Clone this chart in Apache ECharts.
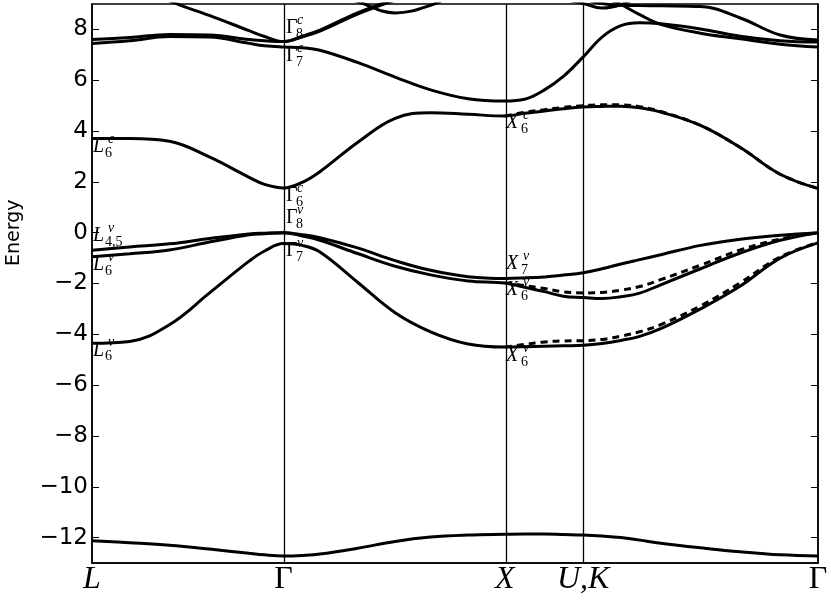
<!DOCTYPE html>
<html>
<head>
<meta charset="utf-8">
<script src="https://cdn.jsdelivr.net/npm/echarts@6/dist/echarts.min.js"></script>
<style>
html, body { margin: 0; padding: 0; background: #fff; }
#bands { width: 831px; height: 603px; }
</style>
</head>
<body>
<div id="bands"></div>
<script>
// high symmetry points along the path
var kPoints = [0, 0.866, 1.866, 2.22, 3.281];
var kNames = ['L', 'Γ', 'X', 'U,K', 'Γ'];
var yTicks = [-12, -10, -8, -6, -4, -2, 0, 2, 4, 6, 8];

// k sampling used for every band
var kGrid = [0, 0.17, 0.35, 0.53, 0.71, 0.78, 0.866, 0.95, 1.03, 1.2, 1.37, 1.53, 1.7, 1.866,
             1.955, 2.045, 2.13, 2.22, 2.305, 2.39, 2.475, 2.57, 2.75, 2.93, 3.11, 3.281];

// band energies (eV) read at kGrid
var bandCore = [-12.12, -12.2, -12.3, -12.45, -12.62, -12.68, -12.72, -12.7, -12.65, -12.42, -12.15, -11.98, -11.9, -11.87,
                -11.86, -11.86, -11.88, -11.9, -11.94, -12.0, -12.1, -12.22, -12.4, -12.56, -12.68, -12.72];
var bandV1 = [-4.35, -4.28, -3.62, -2.38, -1.12, -0.72, -0.43, -0.5, -0.76, -1.95, -3.15, -3.9, -4.38, -4.5,
              -4.49, -4.47, -4.45, -4.43, -4.36, -4.24, -4.08, -3.78, -3.0, -2.1, -1.0, -0.4];
var bandV2 = [-0.69, -0.56, -0.44, -0.23, -0.05, -0.02, 0, -0.08, -0.2, -0.6, -1.1, -1.48, -1.73, -1.8,
              -1.78, -1.74, -1.67, -1.58, -1.42, -1.23, -1.06, -0.87, -0.5, -0.26, -0.1, 0];
var bandV3 = [-0.95, -0.83, -0.68, -0.37, -0.08, -0.04, 0, -0.13, -0.3, -0.82, -1.32, -1.66, -1.9, -1.98,
              -2.15, -2.32, -2.5, -2.55, -2.59, -2.52, -2.38, -2.05, -1.42, -0.8, -0.3, 0];
var bandC1 = [3.71, 3.71, 3.6, 2.98, 2.18, 1.9, 1.76, 1.98, 2.4, 3.55, 4.5, 4.72, 4.66, 4.59,
              4.7, 4.79, 4.88, 4.95, 4.97, 4.98, 4.92, 4.75, 4.22, 3.35, 2.3, 1.74];
var bandC2 = [7.45, 7.55, 7.72, 7.7, 7.45, 7.36, 7.31, 7.28, 7.18, 6.7, 6.12, 5.62, 5.27, 5.18,
              5.25, 5.62, 6.15, 6.92, 7.7, 8.15, 8.26, 8.22, 8.02, 7.73, 7.55, 7.5];
var bandC3 = [7.6, 7.68, 7.8, 7.78, 7.6, 7.55, 7.52, 7.7, 7.93, 8.6, 9.15, 9.6, 9.9, 10.0,
              9.8, 9.7, 9.45, 9.2, 9.02, 8.95, 8.94, 8.93, 8.9, 8.45, 7.78, 7.58];
var bandC4 = [10.5, 9.9, 9.12, 8.55, 7.95, 7.72, 7.52, 7.73, 7.97, 8.65, 9.2, 9.7, 10.0, 10.2,
              10.3, 10.2, 9.9, 9.6, 9.3, 8.98, 8.58, 8.2, 7.85, 7.63, 7.42, 7.31];
var bandC5 = [11, 11, 10.8, 10.5, 10.2, 10.1, 10.0, 9.8, 9.6, 9.1, 8.65, 8.95, 9.6, 9.8,
              9.6, 9.4, 9.2, 9.02, 8.84, 8.97, 9.3, 9.6, 10, 10.2, 10.3, 10.3];

// second calculation (dashed), only differs past X
var dashV1 = ['-', '-', '-', '-', '-', '-', '-', '-', '-', '-', '-', '-', '-', -4.5,
              -4.4, -4.3, -4.26, -4.25, -4.2, -4.07, -3.9, -3.62, -2.88, -1.97, -0.95, -0.4];
var dashV3 = ['-', '-', '-', '-', '-', '-', '-', '-', '-', '-', '-', '-', '-', -1.98,
              -2.08, -2.2, -2.33, -2.37, -2.35, -2.26, -2.12, -1.85, -1.28, -0.68, -0.25, 0];
var dashC1 = ['-', '-', '-', '-', '-', '-', '-', '-', '-', '-', '-', '-', '-', 4.59,
              4.74, 4.84, 4.93, 5.0, 5.03, 5.03, 4.96, 4.77, 4.22, 3.35, 2.3, 1.74];

var solidBands = [bandCore, bandV1, bandV2, bandV3, bandC1, bandC2, bandC3, bandC4, bandC5];
var dashedBands = [dashV1, dashV3, dashC1];

// point labels: main, superscript, subscript, k, E
var notes = [
    ['Γ', 'c', '8', 0.877, 8.05],
    ['Γ', 'c', '7', 0.877, 6.95],
    ['Γ', 'c', '6', 0.877, 1.44],
    ['Γ', 'v', '8', 0.877, 0.57],
    ['Γ', 'v', '7', 0.877, -0.73],
    ['L', 'c', '6', 0.005, 3.37],
    ['L', 'v', '4,5', 0.005, -0.14],
    ['L', 'v', '6', 0.005, -1.28],
    ['L', 'v', '6', 0.005, -4.63],
    ['X', 'c', '6', 1.871, 4.31],
    ['X', 'v', '7', 1.871, -1.24],
    ['X', 'v', '6', 1.871, -2.26],
    ['X', 'v', '6', 1.871, -4.86]
];

function pairUp(vals) {
    var out = [];
    for (var i = 0; i < kGrid.length; i++) {
        out.push([kGrid[i], vals[i]]);
    }
    return out;
}

var myChart = echarts.init(document.getElementById('bands'));

var series = [];
for (var i = 0; i < solidBands.length; i++) {
    series.push({
        type: 'line',
        data: pairUp(solidBands[i]),
        smooth: 0.4,
        showSymbol: false,
        lineStyle: { color: '#000', width: 3 },
        z: 3
    });
}
for (var j = 0; j < dashedBands.length; j++) {
    series.push({
        type: 'line',
        data: pairUp(dashedBands[j]),
        smooth: 0.4,
        showSymbol: false,
        lineStyle: { color: '#000', width: 3, type: [7, 5] },
        z: 2
    });
}
// vertical lines at the special points
series[0].markLine = {
    silent: true,
    symbol: 'none',
    label: { show: false },
    lineStyle: { color: '#000', width: 1.3, type: 'solid' },
    data: [{ xAxis: kPoints[1] }, { xAxis: kPoints[2] }, { xAxis: kPoints[3] }]
};

var option = {
    animation: false,
    backgroundColor: '#fff',
    grid: {
        left: 92, right: 13, top: 4, bottom: 40,
        show: true, borderColor: '#000', borderWidth: 1.5
    },
    xAxis: {
        type: 'value',
        min: 0,
        max: kPoints[kPoints.length - 1],
        axisLine: { show: true, onZero: false, lineStyle: { color: '#000', width: 1.5 } },
        axisTick: { show: false },
        splitLine: { show: false },
        axisLabel: {
            customValues: kPoints,
            margin: 1,
            formatter: function (v) {
                var idx = 0, best = 99;
                for (var i = 0; i < kPoints.length; i++) {
                    if (Math.abs(kPoints[i] - v) < best) { best = Math.abs(kPoints[i] - v); idx = i; }
                }
                var name = kNames[idx];
                return name === 'Γ' ? '{n|' + name + '}' : '{i|' + name + '}';
            },
            rich: {
                i: { fontFamily: 'Liberation Serif', fontStyle: 'italic', fontSize: 32, color: '#000' },
                n: { fontFamily: 'Liberation Serif', fontSize: 32, color: '#000' }
            }
        }
    },
    yAxis: [{
        type: 'value',
        min: -13,
        max: 9,
        axisLine: { show: true, onZero: false, lineStyle: { color: '#000', width: 1.5 } },
        axisTick: { show: true, inside: true, length: 7, customValues: yTicks, lineStyle: { color: '#000' } },
        splitLine: { show: false },
        axisLabel: {
            customValues: yTicks,
            margin: 4,
            fontFamily: 'DejaVu Sans',
            fontSize: 23,
            color: '#000',
            formatter: function (v) { return String(v).replace('-', '\u2212'); }
        }
    }, {
        type: 'value',
        min: -13,
        max: 9,
        position: 'right',
        axisLine: { show: true, onZero: false, lineStyle: { color: '#000', width: 1.5 } },
        axisTick: { show: true, inside: true, length: 7, customValues: yTicks, lineStyle: { color: '#000' } },
        axisLabel: { show: false },
        splitLine: { show: false }
    }],
    series: series
};

myChart.setOption(option);

// y axis title sits level with E = 0, as in the original figure
var gfx = [];
var zeroPx = myChart.convertToPixel({ yAxisIndex: 0 }, 0);
gfx.push({
    type: 'text', silent: true, z: 10,
    x: 14, y: zeroPx, rotation: Math.PI / 2,
    style: { text: 'Energy', x: 0, y: 0, font: '19px "DejaVu Sans"', fill: '#000', align: 'center', verticalAlign: 'middle' }
});

// labels for the special points
var offs = { 'Γ': [11, 10], 'L': [15, 12], 'X': [17, 15] };
for (var n = 0; n < notes.length; n++) {
    var nt = notes[n];
    var p = myChart.convertToPixel({ gridIndex: 0 }, [nt[3], nt[4]]);
    var ital = nt[0] === 'Γ' ? '' : 'italic ';
    var o = offs[nt[0]];
    gfx.push({
        type: 'text', silent: true, z: 10,
        style: { text: nt[0], x: p[0], y: p[1], font: ital + '20px "Liberation Serif"', fill: '#000', align: 'left', verticalAlign: 'middle' }
    });
    gfx.push({
        type: 'text', silent: true, z: 10,
        style: { text: nt[1], x: p[0] + o[0], y: p[1] - 8, font: 'italic 14px "Liberation Serif"', fill: '#000', align: 'left', verticalAlign: 'middle' }
    });
    gfx.push({
        type: 'text', silent: true, z: 10,
        style: { text: nt[2], x: p[0] + o[1], y: p[1] + 6, font: '14px "Liberation Serif"', fill: '#000', align: 'left', verticalAlign: 'middle' }
    });
}
myChart.setOption({ graphic: gfx });
</script>
</body>
</html>
